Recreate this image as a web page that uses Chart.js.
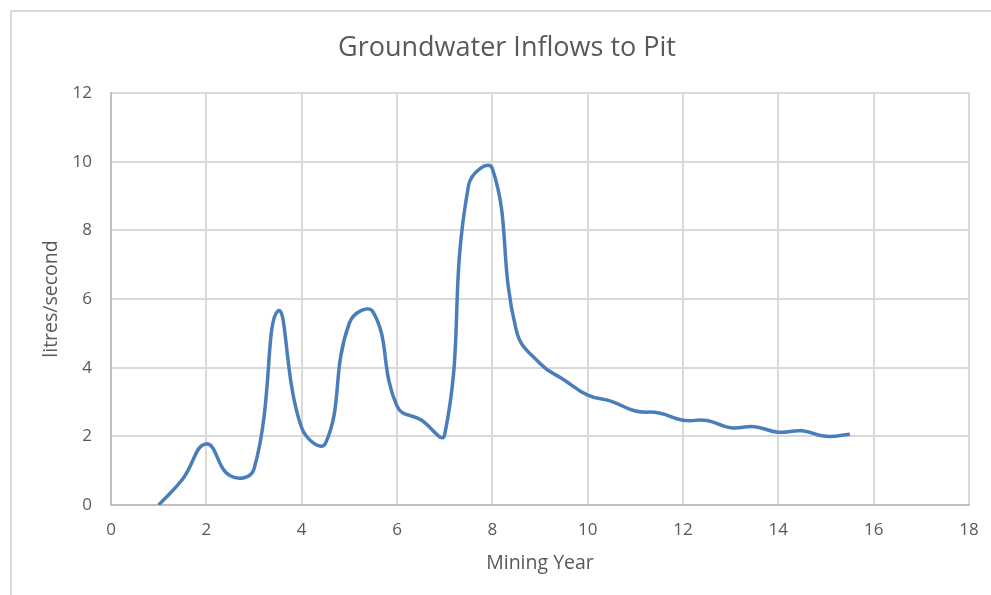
<!DOCTYPE html>
<html>
<head>
<meta charset="utf-8">
<script src="https://cdn.jsdelivr.net/npm/chart.js@4/dist/chart.umd.min.js"></script>
<style>
  html, body { margin: 0; padding: 0; background: #fff; }
  #wrap { position: relative; width: 991px; height: 595px; overflow: hidden; }
  #frame { position: absolute; left: 10px; top: 10px; width: 1000px; height: 700px;
           border-left: 2px solid #d9d9d9; border-top: 2px solid #d9d9d9; box-sizing: border-box; }
  canvas { position: absolute; left: 0; top: 0; }
</style>
</head>
<body>
<div id="wrap">
  <div id="frame"></div>
  <canvas id="c" width="991" height="595"></canvas>
</div>
<script>
const chartTitle = "Groundwater Inflows to Pit";
const xAxisTitle = "Mining Year";
const yAxisTitle = "litres/second";
const miningYear = [1, 1.5, 2, 2.5, 3, 3.5, 4, 4.5, 5, 5.5, 6, 6.5, 7, 7.5, 8, 8.5, 9, 9.5, 10, 10.5, 11, 11.5, 12, 12.5, 13, 13.5, 14, 14.5, 15, 15.5];
const inflows   = [0, 0.75, 1.78, 0.85, 1.05, 5.65, 2.25, 1.8, 5.3, 5.62, 2.88, 2.48, 2.05, 9.3, 9.8, 5.1, 4.12, 3.65, 3.2, 3.02, 2.74, 2.68, 2.47, 2.46, 2.25, 2.28, 2.12, 2.16, 2.0, 2.06];
const xMin = 0, xMax = 18, xStep = 2;
const yMin = 0, yMax = 12, yStep = 2;

const pts = miningYear.map((x, i) => ({ x: x, y: inflows[i] }));
const grey = '#595959';
const font = "'Open Sans', sans-serif";

new Chart(document.getElementById('c'), {
  type: 'scatter',
  data: {
    datasets: [{
      data: pts,
      showLine: true,
      borderColor: '#4a7ebb',
      borderWidth: 3.5,
      pointRadius: 0,
      tension: 0.45,
      cubicInterpolationMode: 'default',
      fill: false
    }]
  },
  options: {
    responsive: false,
    animation: false,
    devicePixelRatio: 1,
    layout: { padding: { left: 30, top: 93, right: 22, bottom: 20 } },
    plugins: {
      legend: { display: false },
      tooltip: { enabled: false },
      title: { display: false }
    },
    scales: {
      x: {
        type: 'linear', min: xMin, max: xMax,
        ticks: { stepSize: xStep, color: grey, font: { family: font, size: 17 }, padding: 15, maxRotation: 0 },
        grid: { color: '#d9d9d9', lineWidth: 2, drawTicks: false },
        border: { color: '#bfbfbf', width: 2 },
        title: { display: true, text: xAxisTitle, color: grey, font: { family: font, size: 19.5 }, padding: 0 },
        afterFit: (s) => { s.height = 70; s.paddingLeft = 0; s.paddingRight = 0; }
      },
      y: {
        type: 'linear', min: yMin, max: yMax,
        ticks: { stepSize: yStep, color: grey, font: { family: font, size: 17 }, padding: 19 },
        grid: { color: '#d9d9d9', lineWidth: 2, drawTicks: false },
        border: { color: '#bfbfbf', width: 2 },
        title: { display: true, text: yAxisTitle, color: grey, font: { family: font, size: 19.5 }, padding: { top: 10, bottom: 0 } },
        afterFit: (s) => { s.width = 81; s.paddingTop = 0; s.paddingBottom = 0; }
      }
    }
  },
  plugins: [{
    id: 'topTitle',
    afterDraw(chart) {
      const ctx = chart.ctx;
      ctx.save();
      ctx.font = "27px 'Open Sans', sans-serif";
      ctx.fillStyle = grey;
      ctx.textAlign = 'center';
      ctx.textBaseline = 'middle';
      ctx.fillText(chartTitle, 507, 48);
      ctx.restore();
    }
  }]
});
</script>
</body>
</html>
